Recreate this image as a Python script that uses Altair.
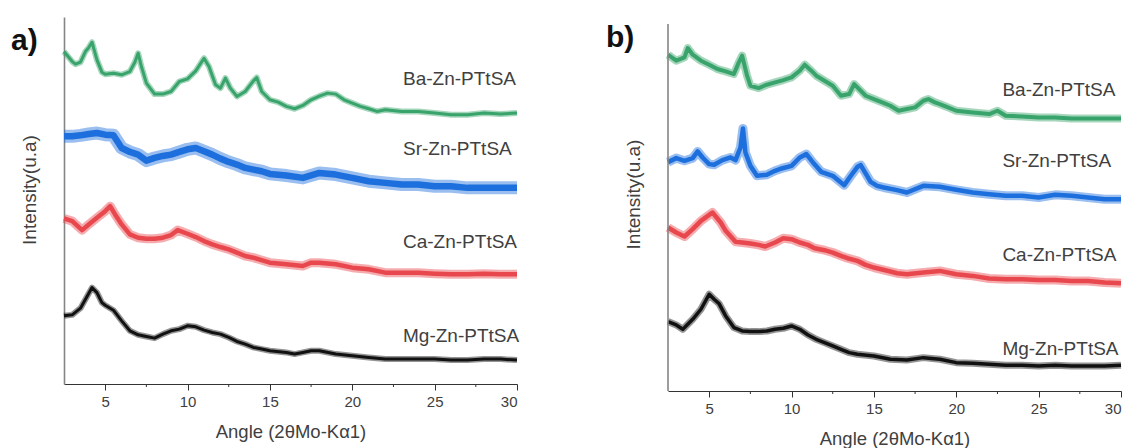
import altair as alt
import pandas as pd

FONT = "Liberation Sans"
GREEN = "#38a36b"
BLUE = "#1c6fdc"
RED = "#e8474d"
BLACK = "#111111"
TXT = "#404040"

# ---------------- panel a) ----------------
a_ba_angle = [2.5, 3.0, 3.2, 3.5, 3.8, 4.0, 4.2, 4.5, 4.8, 5.0, 5.5, 6.0, 6.5, 6.8, 7.0, 7.2, 7.5, 8.0, 8.5,
              9.0, 9.5, 10.0, 10.5, 11.0, 11.3, 11.7, 12.0, 12.3, 12.6, 13.0, 13.5, 14.0, 14.2, 14.5, 15.0,
              15.5, 16.0, 16.5, 17.0, 17.5, 18.0, 18.5, 19.0, 19.5, 20.0, 20.5, 21.0, 21.5, 22.0, 23.0,
              24.0, 25.0, 26.0, 27.0, 28.0, 29.0, 30.0]
a_ba_int = [1000, 970, 962, 968, 1000, 1012, 1028, 975, 938, 932, 935, 930, 940, 968, 995, 955, 905, 872, 872,
            880, 910, 918, 942, 980, 955, 900, 890, 920, 890, 865, 880, 912, 922, 880, 855,
            848, 835, 828, 838, 855, 866, 875, 872, 855, 845, 835, 828, 820, 825, 820,
            820, 815, 810, 810, 815, 812, 815]

a_sr_angle = [2.5, 3.0, 3.5, 4.0, 4.5, 5.0, 5.5, 6.0, 6.5, 7.0, 7.5, 8.0, 8.5, 9.0, 9.5, 10.0, 10.5, 11.0,
              11.5, 12.0, 12.5, 13.0, 13.5, 14.0, 14.5, 15.0, 16.0, 17.0, 18.0, 19.0, 20.0, 21.0, 22.0,
              23.0, 24.0, 25.0, 26.0, 27.0, 28.0, 29.0, 30.0]
a_sr_int = [745, 745, 748, 752, 755, 750, 748, 710, 698, 690, 672, 680, 686, 690, 698, 706, 710, 700,
            690, 678, 668, 660, 650, 645, 640, 632, 627, 620, 635, 630, 620, 610, 605,
            600, 600, 595, 595, 590, 590, 590, 590]

a_ca_angle = [2.5, 3.0, 3.6, 4.0, 4.5, 5.0, 5.3, 5.6, 6.0, 6.5, 7.0, 7.5, 8.0, 8.5, 9.0, 9.4, 10.0, 10.5,
              11.0, 11.5, 12.0, 12.5, 13.0, 13.5, 14.0, 15.0, 16.0, 17.0, 17.5, 18.0, 19.0, 20.0, 21.0,
              22.0, 23.0, 24.0, 25.0, 26.0, 27.0, 28.0, 29.0, 30.0]
a_ca_int = [498, 490, 463, 480, 500, 520, 535, 510, 480, 450, 440, 437, 437, 440, 448, 463, 452, 442,
            430, 420, 412, 405, 395, 385, 380, 365, 360, 355, 365, 365, 360, 350, 345,
            335, 335, 335, 332, 330, 330, 332, 330, 330]

a_mg_angle = [2.5, 3.0, 3.5, 4.0, 4.2, 4.5, 4.8, 5.0, 5.5, 6.0, 6.5, 7.0, 7.5, 8.0, 8.5, 9.0, 9.5, 10.0,
              10.5, 11.0, 11.5, 12.0, 12.5, 13.0, 13.5, 14.0, 14.5, 15.0, 16.0, 16.5, 17.0, 17.5, 18.0,
              19.0, 20.0, 21.0, 22.0, 23.0, 24.0, 25.0, 26.0, 27.0, 28.0, 29.0, 30.0]
a_mg_int = [205, 208, 228, 272, 290, 275, 245, 237, 222, 190, 160, 148, 143, 138, 150, 160, 165, 175,
            172, 162, 155, 150, 140, 128, 120, 110, 105, 100, 95, 90, 95, 100, 100,
            90, 85, 80, 75, 75, 75, 75, 72, 72, 75, 75, 72]

a_label_names = ["Ba-Zn-PTtSA", "Sr-Zn-PTtSA", "Ca-Zn-PTtSA", "Mg-Zn-PTtSA"]
a_label_angle = [23.08, 23.08, 23.08, 23.08]
a_label_int = [898, 688, 408, 125]

# ---------------- panel b) ----------------
b_ba_angle = [2.5, 3.0, 3.5, 3.7, 4.0, 4.5, 5.0, 5.5, 6.0, 6.5, 6.8, 7.0, 7.3, 7.5, 8.0, 8.5, 9.0, 9.5,
              10.0, 10.5, 10.8, 11.2, 11.5, 12.0, 12.5, 13.0, 13.5, 13.8, 14.2, 14.5, 15.0, 15.5, 16.0,
              16.5, 17.0, 17.5, 18.0, 18.3, 18.7, 19.0, 19.5, 20.0, 21.0, 22.0, 22.5, 23.0, 24.0, 25.0,
              26.0, 27.0, 28.0, 29.0, 30.0]
b_ba_int = [1008, 990, 1000, 1028, 1008, 990, 978, 965, 958, 950, 985, 1005, 945, 915, 908, 918, 925, 932,
            940, 960, 978, 960, 945, 930, 915, 885, 890, 920, 900, 885, 875, 865, 855,
            840, 845, 850, 870, 875, 865, 860, 850, 840, 835, 830, 840, 825, 823, 820,
            820, 817, 817, 817, 817]

b_sr_angle = [2.5, 3.0, 3.5, 4.0, 4.3, 4.6, 5.0, 5.3, 5.8, 6.3, 6.6, 6.9, 7.05, 7.2, 7.5, 7.9, 8.5, 9.0,
              9.4, 10.0, 10.5, 10.9, 11.3, 11.8, 12.5, 13.2, 13.6, 14.0, 14.2, 14.8, 15.2, 15.6, 16.4,
              17.0, 18.0, 19.0, 20.0, 21.0, 22.0, 23.0, 24.0, 25.0, 26.0, 27.0, 28.0, 29.0, 30.0]
b_sr_int = [686, 698, 690, 698, 718, 700, 680, 678, 692, 700, 692, 730, 787, 715, 675, 645, 648, 660,
            667, 675, 700, 710, 685, 657, 645, 617, 645, 672, 677, 627, 615, 610, 602,
            595, 615, 612, 603, 595, 590, 585, 585, 580, 588, 585, 580, 575, 575]

b_ca_angle = [2.5, 3.0, 3.5, 4.0, 4.5, 5.0, 5.2, 5.7, 6.0, 6.6, 7.0, 7.5, 8.0, 8.4, 9.0, 9.5, 10.0, 10.5,
              11.0, 11.4, 12.0, 12.5, 13.0, 13.4, 14.0, 14.5, 15.0, 16.0, 16.4, 17.0, 18.0, 19.0, 20.0,
              21.0, 22.0, 23.0, 24.0, 25.0, 26.0, 27.0, 28.0, 29.0, 30.0]
b_ca_int = [490, 475, 463, 485, 510, 528, 535, 505, 480, 447, 445, 442, 438, 433, 445, 458, 455, 445,
            438, 428, 422, 415, 405, 398, 390, 378, 370, 358, 353, 350, 355, 360, 350,
            345, 337, 335, 335, 333, 333, 330, 330, 325, 323]

b_mg_angle = [2.5, 3.0, 3.4, 4.0, 4.5, 5.0, 5.3, 5.6, 6.0, 6.5, 7.0, 7.5, 8.0, 8.5, 9.0, 9.5, 10.0, 10.5,
              11.0, 11.5, 12.0, 12.5, 13.0, 13.5, 14.0, 15.0, 16.0, 17.0, 18.0, 19.0, 20.0, 21.0, 22.0,
              23.0, 24.0, 25.0, 26.0, 27.0, 28.0, 29.0, 30.0]
b_mg_int = [208, 198, 185, 215, 245, 290, 275, 262, 225, 190, 180, 178, 178, 180, 185, 188, 195, 185,
            168, 155, 145, 135, 125, 115, 110, 105, 95, 93, 100, 95, 85, 83, 80,
            77, 77, 75, 77, 75, 75, 75, 77]

b_label_names = ["Ba-Zn-PTtSA", "Sr-Zn-PTtSA", "Ca-Zn-PTtSA", "Mg-Zn-PTtSA"]
b_label_angle = [22.8, 22.8, 22.8, 22.8]
b_label_int = [883, 670, 390, 107]

major_ticks = [5, 10, 15, 20, 25, 30]
minor_ticks = [7.5, 12.5, 17.5, 22.5, 27.5]

W = 453


def panel(series, labels, letter, letter_x, letter_y, H, ymax, title_x, title_y, draw_domain):
    xscale = alt.Scale(domain=[2.5, 30], nice=False, zero=False)
    yscale = alt.Scale(domain=[0, ymax], nice=False, zero=False)
    xaxis = alt.Axis(values=major_ticks, grid=False, tickSize=6, tickColor="#333333",
                     domainColor="#333333", domainWidth=1.2, labelFontSize=15, labelColor=TXT,
                     labelPadding=4, labelFont=FONT, title="Angle (2θMo-Kα1)", titleFont=FONT,
                     titleFontSize=18.5, titleFontWeight="normal", titleColor=TXT, titleY=53,
                     titleBaseline="alphabetic")
    yaxis = alt.Axis(grid=False, ticks=False, labels=False, domain=draw_domain,
                     domainColor="#858585", domainWidth=1.6, title="Intensity(u.a)",
                     titleFont=FONT, titleFontSize=19, titleFontWeight="normal", titleColor=TXT,
                     titleX=title_x, titleY=title_y, titleAngle=270, titleAlign="center",
                     titleBaseline="middle")
    layers = []
    first = True
    for ang, inten, color, sw in series:
        df = pd.DataFrame({"angle": ang, "I": inten})
        base = alt.Chart(df)
        # soft outer band (noise spread) + denser core
        layers.append(
            base.mark_line(color=color, strokeWidth=sw, opacity=0.45, strokeJoin="round").encode(
                x=alt.X("angle:Q", scale=xscale, axis=xaxis if first else alt.Axis(grid=False)),
                y=alt.Y("I:Q", scale=yscale, axis=yaxis if first else alt.Axis(grid=False)),
            )
        )
        layers.append(
            base.mark_line(color=color, strokeWidth=sw * 0.5, strokeJoin="round").encode(
                x=alt.X("angle:Q", scale=xscale), y=alt.Y("I:Q", scale=yscale))
        )
        first = False
    ldf = pd.DataFrame({"angle": labels[1], "I": labels[2], "name": labels[0]})
    layers.append(
        alt.Chart(ldf).mark_text(align="left", baseline="alphabetic", font=FONT, fontSize=19,
                                 color=TXT).encode(
            x=alt.X("angle:Q", scale=xscale), y=alt.Y("I:Q", scale=yscale), text="name:N")
    )
    mdf = pd.DataFrame({"angle": minor_ticks})
    layers.append(
        alt.Chart(mdf).mark_rule(color="#333333", strokeWidth=1).encode(
            x=alt.X("angle:Q", scale=xscale), y=alt.value(H), y2=alt.value(H + 3))
    )
    tdf = pd.DataFrame({"t": [letter]})
    layers.append(
        alt.Chart(tdf).mark_text(align="left", baseline="alphabetic", font=FONT, fontSize=30,
                                 fontWeight="bold", color="#111111").encode(
            text="t:N", x=alt.value(letter_x), y=alt.value(letter_y))
    )
    if not draw_domain:
        layers.append(
            alt.Chart(tdf).mark_rule(color="#858585", strokeWidth=1.6).encode(
                x=alt.value(0), y=alt.value(7), y2=alt.value(H))
        )
    return alt.layer(*layers).properties(width=W, height=H)


pa = panel(
    [(a_ba_angle, a_ba_int, GREEN, 6), (a_sr_angle, a_sr_int, BLUE, 13),
     (a_ca_angle, a_ca_int, RED, 9), (a_mg_angle, a_mg_int, BLACK, 6)],
    (a_label_names, a_label_angle, a_label_int), "a)", -53, 33, 367, 1104, -35, 172.5, True)

pb = panel(
    [(b_ba_angle, b_ba_int, GREEN, 8), (b_sr_angle, b_sr_int, BLUE, 9),
     (b_ca_angle, b_ca_int, RED, 9), (b_mg_angle, b_mg_int, BLACK, 7)],
    (b_label_names, b_label_angle, b_label_int), "b)", -62, 29.7, 374, 1121, -34.5, 177, False)

chart = alt.hconcat(pa, pb, spacing=151, bounds="flush").properties(
    padding={"left": 11, "top": 17, "right": 0, "bottom": 0}
).configure_view(stroke=None)

chart.save("out.html", embed_options={"renderer": "svg", "actions": False})
